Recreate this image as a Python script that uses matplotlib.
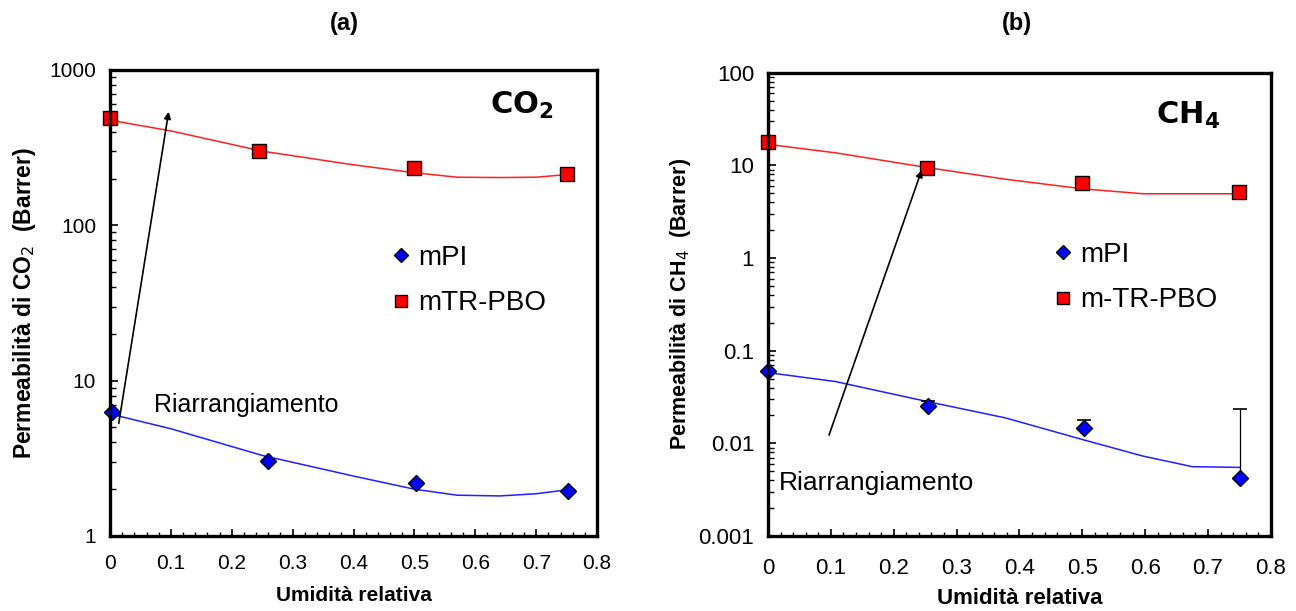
import matplotlib.pyplot as plt
import matplotlib.ticker as mticker

plt.rcParams['font.family'] = ['Liberation Sans', 'DejaVu Sans']

# ---- panel (a): CO2 ----
rh_co2_pi = [0.003, 0.26, 0.502, 0.753]
co2_pi = [6.3, 3.05, 2.2, 1.96]
rh_co2_pbo = [0.0, 0.245, 0.5, 0.75]
co2_pbo = [490, 303, 235, 213]
fit_x_co2 = [0.0, 0.1, 0.25, 0.4, 0.5, 0.57, 0.64, 0.7, 0.75]
fit_co2_pbo = [475, 405, 300, 245, 218, 204, 203, 204, 212]
fit_co2_pi = [6.1, 4.9, 3.3, 2.43, 2.0, 1.83, 1.81, 1.87, 1.98]

# ---- panel (b): CH4 ----
rh_ch4_pi = [0.0, 0.254, 0.503, 0.751]
ch4_pi = [0.0608, 0.0251, 0.0146, 0.00424]
ch4_pi_err_up = [0.0, 0.0037, 0.0034, 0.0190]
rh_ch4_pbo = [0.0, 0.253, 0.5, 0.75]
ch4_pbo = [18.0, 9.4, 6.4, 5.2]
fit_x_ch4 = [0.0, 0.107, 0.253, 0.378, 0.5, 0.596, 0.675, 0.75]
fit_ch4_pbo = [16.9, 13.7, 9.5, 7.1, 5.6, 4.95, 4.95, 4.95]
fit_ch4_pi = [0.058, 0.0465, 0.0283, 0.0188, 0.011, 0.0073, 0.0056, 0.0055]

x_ticks = [0, 0.1, 0.2, 0.3, 0.4, 0.5, 0.6, 0.7, 0.8]

fig = plt.figure(figsize=(12.96, 6.11), dpi=100)
ax1 = fig.add_axes([0.0849, 0.1228, 0.3758, 0.7627])
ax2 = fig.add_axes([0.5926, 0.1228, 0.3880, 0.7580])


def style_axes(ax, ylim, tick_fs, xpad):
    ax.set_yscale('log')
    ax.set_xlim(0, 0.8)
    ax.set_ylim(*ylim)
    ax.set_xticks(x_ticks)
    ax.xaxis.set_minor_locator(mticker.MultipleLocator(0.02))
    ax.xaxis.set_major_formatter(mticker.FuncFormatter(lambda v, p: '{:g}'.format(round(v, 2))))
    ax.yaxis.set_major_locator(mticker.LogLocator(base=10, numticks=20))
    ax.yaxis.set_minor_locator(mticker.LogLocator(base=10, subs=range(2, 10), numticks=20))
    ax.yaxis.set_minor_formatter(mticker.NullFormatter())
    ax.yaxis.set_major_formatter(mticker.FuncFormatter(lambda v, p: '{:g}'.format(v)))
    ax.tick_params(which='both', direction='in', labelsize=tick_fs, top=False, right=False)
    ax.tick_params(axis='x', which='major', length=5, width=1.2, pad=xpad)
    ax.tick_params(axis='x', which='minor', length=3, width=1)
    ax.tick_params(axis='y', which='major', length=6, width=1.2, pad=10)
    ax.tick_params(axis='y', which='minor', length=4, width=1)
    for s in ax.spines.values():
        s.set_linewidth(2.4)


# (a)
style_axes(ax1, (1, 1000), 15, 13)
ax1.plot(fit_x_co2, fit_co2_pbo, color='#ff2020', lw=1.1)
ax1.plot(fit_x_co2, fit_co2_pi, color='#2020ff', lw=1.1)
h1, = ax1.plot(rh_co2_pi, co2_pi, 'D', ms=8, mfc='#0000ff', mec='black', mew=1,
               clip_on=False, label='mPI')
h2, = ax1.plot(rh_co2_pbo, co2_pbo, 's', ms=9.5, mfc='#ff0000', mec='black', mew=1,
               clip_on=False, label='mTR-PBO')
ax1.annotate('', xy=(0.097, 560), xytext=(0.0136, 5.1),
             arrowprops=dict(arrowstyle='-|>', color='black', lw=1.2, mutation_scale=10))
ax1.text(0.073, 7.0, 'Riarrangiamento', fontsize=18, va='center', ha='left')
ax1.text(0.624, 590, r'$\mathbf{CO_2}$', fontsize=22, va='center', ha='left')
ax1.legend(handles=[h1, h2], loc='center left', bbox_to_anchor=(0.575, 0.548),
           frameon=False, fontsize=20, handlelength=0.8, handletextpad=0.2,
           labelspacing=0.7, borderpad=0, borderaxespad=0, markerscale=0.85)
ax1.set_xlabel('Umidità relativa', fontsize=15, fontweight='bold', labelpad=9)
ax1.set_ylabel(r'Permeabilità di CO$_2$  (Barrer)', fontsize=16.5, fontweight='bold', labelpad=8)

# (b)
style_axes(ax2, (0.001, 100), 16, 16)
ax2.plot(fit_x_ch4, fit_ch4_pbo, color='#ff2020', lw=1.1)
ax2.plot(fit_x_ch4, fit_ch4_pi, color='#2020ff', lw=1.1)
ax2.errorbar(rh_ch4_pi, ch4_pi, yerr=[[0] * len(ch4_pi), ch4_pi_err_up], fmt='none',
             ecolor='black', elinewidth=0.9, capsize=5, capthick=1.2)
g1, = ax2.plot(rh_ch4_pi, ch4_pi, 'D', ms=8, mfc='#0000ff', mec='black', mew=1,
               clip_on=False, label='mPI')
g2, = ax2.plot(rh_ch4_pbo, ch4_pbo, 's', ms=9.5, mfc='#ff0000', mec='black', mew=1,
               clip_on=False, label='m-TR-PBO')
ax2.annotate('', xy=(0.246, 9.5), xytext=(0.0956, 0.0115),
             arrowprops=dict(arrowstyle='-|>', color='black', lw=1.2, mutation_scale=10))
ax2.text(0.0165, 0.0037, 'Riarrangiamento', fontsize=19, va='center', ha='left')
ax2.text(0.617, 35, r'$\mathbf{CH_4}$', fontsize=22, va='center', ha='left')
ax2.legend(handles=[g1, g2], loc='center left', bbox_to_anchor=(0.565, 0.558),
           frameon=False, fontsize=20, handlelength=0.8, handletextpad=0.2,
           labelspacing=0.7, borderpad=0, borderaxespad=0, markerscale=0.85)
ax2.set_xlabel('Umidità relativa', fontsize=16, fontweight='bold', labelpad=6)
ax2.set_ylabel(r'Permeabilità di CH$_4$  (Barrer)', fontsize=15.5, fontweight='bold', labelpad=4)

fig.text(0.266, 0.962, '(a)', fontsize=17, fontweight='bold', ha='center', va='center')
fig.text(0.785, 0.962, '(b)', fontsize=17, fontweight='bold', ha='center', va='center')

fig.savefig('out.png', dpi=100)
